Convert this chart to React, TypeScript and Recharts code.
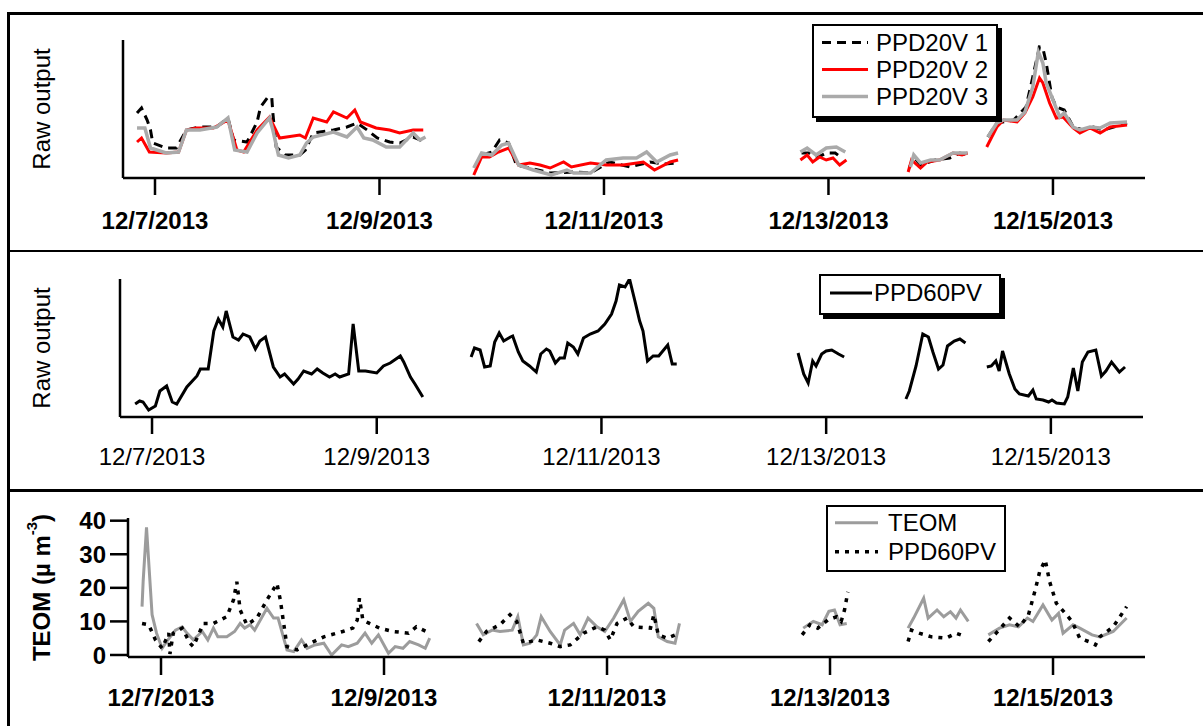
import { LineChart, Line, XAxis, YAxis, Label } from "recharts";

type Row = [number, number | null];

// x = days since 12/7/2013 00:00, null rows split the record into its gaps
const tickDays = [0, 2, 4, 6, 8];
const dateLabels = ["12/7/2013", "12/9/2013", "12/11/2013", "12/13/2013", "12/15/2013"];
const teomTicks = [0, 10, 20, 30, 40];

// top panel: raw output, arbitrary units
const ppd20v1: Row[] = [
  [-0.16, 65], [-0.12, 70], [-0.07, 58], [-0.04, 48], [-0.02, 35], [0.1, 30], [0.19, 30], [0.28, 48], [0.4, 51], [0.55, 51],
  [0.65, 60], [0.7, 38], [0.82, 36], [0.91, 56], [0.94, 71], [1.0, 80], [1.04, 81], [1.05, 65], [1.08, 31], [1.16, 23],
  [1.29, 23], [1.34, 28], [1.41, 45], [1.59, 48], [1.71, 51], [1.8, 55], [1.89, 48], [1.98, 40], [2.09, 36], [2.18, 35],
  [2.3, 41], [2.41, 36],
  [2.6, null],
  [2.85, 11], [2.91, 23], [3.0, 26], [3.07, 38], [3.15, 35], [3.22, 13], [3.34, 10], [3.52, 5], [3.73, 6], [3.88, 5],
  [4.05, 16], [4.23, 11], [4.41, 16], [4.54, 14], [4.65, 15],
  [5.2, null],
  [5.76, 25], [5.83, 25], [5.91, 21], [5.98, 25], [6.06, 25], [6.12, 20],
  [6.4, null],
  [6.72, 10], [6.76, 21], [6.82, 13], [6.95, 18], [7.08, 20], [7.17, 25], [7.24, 23],
  [7.33, null],
  [7.42, 41], [7.5, 55], [7.65, 58], [7.76, 71], [7.82, 101], [7.88, 131], [7.91, 130], [7.94, 115], [7.99, 81], [8.03, 71],
  [8.1, 68], [8.18, 51], [8.27, 48], [8.36, 51], [8.45, 48], [8.54, 51], [8.66, 55],
];

const ppd20v2: Row[] = [
  [-0.16, 36], [-0.12, 40], [-0.05, 26], [0.1, 25], [0.21, 26], [0.28, 48], [0.37, 50], [0.52, 50], [0.65, 58], [0.73, 28],
  [0.79, 26], [0.91, 48], [1.02, 61], [1.11, 40], [1.29, 43], [1.34, 40], [1.41, 60], [1.53, 56], [1.59, 66], [1.71, 60],
  [1.78, 68], [1.83, 56], [1.97, 50], [2.09, 48], [2.18, 45], [2.3, 48], [2.39, 48],
  [2.6, null],
  [2.84, 3], [2.91, 21], [2.98, 21], [3.06, 26], [3.15, 30], [3.24, 13], [3.34, 15], [3.43, 13], [3.52, 10], [3.64, 16],
  [3.71, 11], [3.88, 15], [4.02, 13], [4.17, 13], [4.35, 16], [4.45, 8], [4.59, 16], [4.66, 18],
  [5.2, null],
  [5.75, 18], [5.81, 23], [5.86, 16], [5.92, 21], [5.98, 18], [6.04, 20], [6.1, 13], [6.16, 18],
  [6.4, null],
  [6.71, 6], [6.74, 18], [6.82, 10], [6.88, 16], [6.99, 18], [7.11, 25], [7.19, 23], [7.24, 25],
  [7.33, null],
  [7.41, 31], [7.5, 51], [7.56, 58], [7.68, 56], [7.75, 65], [7.82, 81], [7.88, 100], [7.91, 95], [7.97, 75], [8.03, 60],
  [8.09, 61], [8.18, 50], [8.24, 45], [8.33, 50], [8.42, 45], [8.51, 51], [8.66, 53],
];

const ppd20v3: Row[] = [
  [-0.16, 50], [-0.09, 50], [-0.04, 30], [0.1, 25], [0.21, 26], [0.28, 48], [0.4, 48], [0.55, 51], [0.65, 60], [0.71, 28],
  [0.82, 26], [0.91, 45], [1.02, 60], [1.05, 48], [1.1, 23], [1.19, 20], [1.29, 23], [1.35, 35], [1.41, 41], [1.59, 46],
  [1.71, 41], [1.8, 51], [1.86, 40], [1.94, 38], [2.06, 31], [2.18, 31], [2.3, 45], [2.36, 38], [2.41, 41],
  [2.6, null],
  [2.84, 10], [2.91, 25], [3.0, 23], [3.09, 33], [3.15, 35], [3.24, 13], [3.37, 8], [3.53, 3], [3.67, 8], [3.73, 5],
  [3.88, 5], [4.02, 18], [4.17, 20], [4.29, 20], [4.38, 26], [4.47, 16], [4.59, 23], [4.66, 25],
  [5.2, null],
  [5.75, 26], [5.81, 30], [5.89, 23], [5.98, 30], [6.07, 31], [6.15, 26],
  [6.4, null],
  [6.73, 11], [6.76, 23], [6.82, 15], [6.91, 18], [6.99, 18], [7.11, 25], [7.24, 25],
  [7.33, null],
  [7.42, 41], [7.5, 55], [7.56, 58], [7.68, 58], [7.75, 66], [7.82, 91], [7.87, 126], [7.91, 115], [7.94, 95], [8.0, 78],
  [8.06, 61], [8.1, 65], [8.18, 51], [8.24, 48], [8.33, 51], [8.42, 50], [8.51, 55], [8.66, 56],
];

// middle panel: raw output, arbitrary units
const ppd60pvRaw: Row[] = [
  [-0.15, 13], [-0.11, 16], [-0.08, 15], [-0.03, 7], [0.03, 11], [0.07, 26], [0.13, 31], [0.18, 15], [0.22, 13], [0.31, 30],
  [0.4, 41], [0.43, 48], [0.5, 48], [0.55, 86], [0.59, 98], [0.63, 90], [0.66, 106], [0.72, 80], [0.77, 77], [0.81, 83],
  [0.87, 80], [0.92, 68], [0.96, 76], [1.01, 80], [1.08, 50], [1.14, 40], [1.18, 43], [1.26, 33], [1.3, 38], [1.35, 46],
  [1.42, 43], [1.47, 48], [1.52, 44], [1.58, 40], [1.63, 43], [1.67, 40], [1.75, 43], [1.79, 93], [1.84, 46], [1.9, 46],
  [2.0, 44], [2.06, 51], [2.12, 54], [2.21, 61], [2.24, 55], [2.3, 40], [2.34, 33], [2.41, 20],
  [2.6, null],
  [2.84, 60], [2.87, 69], [2.92, 67], [2.96, 50], [3.01, 51], [3.05, 75], [3.09, 84], [3.13, 76], [3.19, 80], [3.21, 81],
  [3.26, 65], [3.3, 56], [3.36, 51], [3.42, 45], [3.46, 63], [3.51, 68], [3.54, 66], [3.59, 54], [3.63, 59], [3.67, 59],
  [3.7, 74], [3.75, 70], [3.79, 63], [3.84, 79], [3.9, 83], [3.97, 86], [4.03, 93], [4.09, 103], [4.13, 116], [4.16, 132],
  [4.21, 130], [4.25, 138], [4.3, 115], [4.34, 96], [4.37, 86], [4.41, 56], [4.46, 61], [4.51, 61], [4.59, 72], [4.63, 53],
  [4.67, 53],
  [5.2, null],
  [5.75, 64], [5.8, 43], [5.84, 34], [5.88, 56], [5.91, 51], [5.96, 63], [6.0, 66], [6.05, 67], [6.11, 63], [6.16, 60],
  [6.4, null],
  [6.71, 18], [6.74, 26], [6.8, 51], [6.86, 83], [6.91, 80], [6.95, 65], [7.0, 48], [7.04, 52], [7.08, 71], [7.14, 76],
  [7.19, 78], [7.24, 74],
  [7.33, null],
  [7.43, 50], [7.47, 51], [7.51, 56], [7.54, 46], [7.57, 66], [7.63, 43], [7.68, 28], [7.72, 23], [7.8, 21], [7.84, 27],
  [7.87, 18], [7.93, 17], [7.98, 15], [8.01, 17], [8.05, 14], [8.12, 13], [8.15, 20], [8.2, 49], [8.24, 26], [8.28, 55],
  [8.33, 65], [8.4, 67], [8.45, 41], [8.49, 46], [8.54, 55], [8.61, 45], [8.66, 50],
];

// bottom panel: mass concentration
const teom: Row[] = [
  [-0.17, 14.4], [-0.16, 22], [-0.13, 38], [-0.08, 12], [-0.04, 6.5], [0.01, 2], [0.05, 4], [0.13, 7.4], [0.19, 8.4], [0.23, 6.6],
  [0.29, 4.5], [0.37, 7], [0.42, 4.5], [0.47, 8], [0.51, 5.4], [0.59, 5.4], [0.66, 7], [0.71, 9.4], [0.75, 8], [0.8, 9],
  [0.84, 7.4], [0.95, 13.9], [1.01, 11], [1.05, 11], [1.13, 1.5], [1.19, 1], [1.26, 4.5], [1.31, 2], [1.38, 3], [1.46, 3.5],
  [1.53, 0], [1.62, 3], [1.68, 2.5], [1.76, 3.5], [1.83, 6.5], [1.89, 3.5], [1.95, 6], [2.04, 0.5], [2.1, 2.5], [2.17, 2],
  [2.23, 4], [2.31, 3], [2.37, 2], [2.41, 5],
  [2.6, null],
  [2.83, 9.4], [2.89, 6], [2.97, 7.4], [3.04, 7], [3.15, 7.4], [3.2, 11.4], [3.25, 3], [3.31, 3.5], [3.37, 6], [3.41, 11.4],
  [3.49, 7], [3.58, 3], [3.62, 7.4], [3.7, 9.4], [3.76, 6], [3.83, 11], [3.91, 8.4], [3.98, 7], [4.06, 11], [4.15, 16.4],
  [4.21, 10], [4.28, 13], [4.37, 15.4], [4.42, 13.9], [4.46, 5.4], [4.54, 4], [4.61, 3.5], [4.65, 9.4],
  [5.2, null],
  [5.76, 8], [5.85, 10], [5.93, 9], [5.99, 13], [6.04, 13.4], [6.09, 9], [6.15, 9.4],
  [6.4, null],
  [6.7, 8], [6.75, 11], [6.84, 16.9], [6.88, 11], [6.96, 13.4], [7.02, 11.4], [7.08, 12.9], [7.13, 11], [7.17, 13.4], [7.24, 10],
  [7.33, null],
  [7.42, 6], [7.52, 8], [7.61, 9], [7.69, 8.4], [7.77, 11], [7.82, 10], [7.91, 14.9], [7.99, 10.4], [8.05, 12.4], [8.09, 6.5],
  [8.18, 9], [8.24, 8], [8.35, 6], [8.42, 5.4], [8.54, 7], [8.66, 11],
];

const ppd60pvMass: Row[] = [
  [-0.17, 9.4], [-0.11, 9], [-0.05, 4.5], [0.01, 2], [0.07, 6.5], [0.08, 0.3], [0.11, 6.5], [0.19, 8], [0.26, 3.5], [0.29, 2.5],
  [0.38, 9.4], [0.47, 9.4], [0.59, 11.4], [0.65, 16.4], [0.68, 21.8], [0.71, 13.4], [0.77, 9], [0.86, 11], [0.95, 16.4], [1.04, 21.3],
  [1.07, 16.4], [1.13, 2.5], [1.22, 1.5], [1.28, 2.5], [1.37, 4], [1.46, 5.4], [1.63, 7], [1.72, 8], [1.76, 10.4], [1.78, 16.9],
  [1.81, 10.4], [1.87, 9.4], [1.96, 8], [2.08, 7], [2.22, 6.5], [2.29, 8.4], [2.38, 7],
  [2.6, null],
  [2.85, 4], [2.92, 7], [3.04, 9], [3.13, 12], [3.19, 10], [3.25, 3.5], [3.37, 4.5], [3.49, 3.5], [3.58, 2.5], [3.67, 3],
  [3.79, 6.5], [3.91, 8.4], [3.98, 7.4], [4.03, 4.5], [4.09, 9.4], [4.18, 11], [4.24, 8.4], [4.39, 8], [4.42, 12], [4.46, 6],
  [4.54, 5], [4.65, 6.5],
  [5.2, null],
  [5.75, 6], [5.82, 9], [5.89, 8], [5.98, 10.4], [6.06, 11.4], [6.1, 10], [6.13, 13.4], [6.16, 18.8],
  [6.4, null],
  [6.7, 4], [6.73, 7.4], [6.8, 6.5], [6.91, 5.4], [7.04, 5], [7.13, 6.5], [7.22, 5.4],
  [7.33, null],
  [7.42, 4], [7.49, 6.5], [7.61, 11], [7.7, 8.4], [7.78, 12], [7.84, 19.3], [7.88, 24.8], [7.93, 28.3], [7.97, 21.8], [8.03, 15.4],
  [8.11, 12.4], [8.17, 10], [8.24, 5], [8.32, 4], [8.38, 3], [8.42, 5.4], [8.54, 8.4], [8.66, 14.4],
];

const FONT = '"Liberation Sans", Arial, sans-serif';
const FS = 24;
const toData = (rows: Row[]) => rows.map(([t, v]) => ({ t, v }));
const dateTick = (t: number) => dateLabels[tickDays.indexOf(t)] ?? "";

const axisStroke = { stroke: "#000", strokeWidth: 2.5 };

const rotatedLabel = (bold: boolean, unit: boolean) => (props: any) => {
  const vb = props.viewBox || { y: 0, height: 0 };
  const cx = 41;
  const cy = vb.y + vb.height / 2;
  return (
    <text
      x={cx}
      y={cy}
      transform={`rotate(-90 ${cx} ${cy})`}
      textAnchor="middle"
      dominantBaseline="central"
      fontFamily={FONT}
      fontSize={FS}
      fontWeight={bold ? "bold" : "normal"}
      fill="#000"
    >
      {unit ? (
        <>
          <tspan>TEOM (µ m</tspan>
          <tspan dy={-10} fontSize={15}>-3</tspan>
          <tspan dy={10}>)</tspan>
        </>
      ) : (
        "Raw output"
      )}
    </text>
  );
};

type LegendRow = { name: string; color: string; sw: number; dash?: string };

function LegendBox(p: {
  left: number; top: number; width: number; height: number; shadow: boolean;
  rows: LegendRow[]; rowTop: number; rowH: number; sampleLeft: number; sampleW: number; textLeft: number;
}) {
  return (
    <div
      style={{
        position: "absolute", left: p.left, top: p.top, width: p.width, height: p.height,
        border: "2.5px solid #000", boxSizing: "border-box", background: "#fff",
        boxShadow: p.shadow ? "4px 4px 0 #000" : "none",
      }}
    >
      {p.rows.map((r, i) => (
        <div key={r.name} style={{ position: "absolute", left: 0, top: p.rowTop + i * p.rowH, height: p.rowH, width: "100%" }}>
          <svg style={{ position: "absolute", left: p.sampleLeft, top: 0 }} width={p.sampleW} height={p.rowH}>
            <line x1={0} y1={p.rowH / 2} x2={p.sampleW} y2={p.rowH / 2} stroke={r.color} strokeWidth={r.sw} strokeDasharray={r.dash} />
          </svg>
          <span
            style={{
              position: "absolute", left: p.textLeft, top: 0, lineHeight: `${p.rowH}px`,
              fontSize: FS, fontFamily: FONT, color: "#000", whiteSpace: "nowrap",
            }}
          >
            {r.name}
          </span>
        </div>
      ))}
    </div>
  );
}

const hLine = (top: number) => (
  <div style={{ position: "absolute", left: 7, top, width: 1196, height: 2.5, background: "#000" }} />
);

export default function App() {
  const xTick = (bold: boolean) => ({ fill: "#000", fontSize: FS, fontWeight: bold ? "bold" : "normal", fontFamily: FONT });
  return (
    <div style={{ position: "absolute", left: 0, top: 0, width: 1203, height: 726, background: "#fff", overflow: "hidden" }}>
      <div style={{ position: "absolute", left: 0, top: 0 }}>
        <LineChart width={1203} height={250} margin={{ top: 40, right: 58, bottom: 0, left: 0 }}>
          <XAxis
            type="number" dataKey="t" domain={[-0.285, 8.82]} ticks={tickDays} interval={0} allowDataOverflow
            tickFormatter={dateTick} height={72} tickSize={17} tickMargin={17}
            axisLine={axisStroke} tickLine={axisStroke} tick={xTick(true)}
          />
          <YAxis
            type="number" domain={[0, 138]} allowDataOverflow tick={false} tickLine={false} width={123}
            axisLine={axisStroke} label={<Label content={rotatedLabel(false, false)} />}
          />
          <Line data={toData(ppd20v1)} dataKey="v" stroke="#000" strokeWidth={3} strokeDasharray="9 6" dot={false} connectNulls={false} isAnimationActive={false} />
          <Line data={toData(ppd20v2)} dataKey="v" stroke="#ff0000" strokeWidth={3} dot={false} connectNulls={false} isAnimationActive={false} />
          <Line data={toData(ppd20v3)} dataKey="v" stroke="#aaaaaa" strokeWidth={3.5} dot={false} connectNulls={false} isAnimationActive={false} />
        </LineChart>
      </div>

      <div style={{ position: "absolute", left: 0, top: 250 }}>
        <LineChart width={1203} height={240} margin={{ top: 29, right: 60, bottom: 0, left: 0 }}>
          <XAxis
            type="number" dataKey="t" domain={[-0.285, 8.82]} ticks={tickDays} interval={0} allowDataOverflow
            tickFormatter={dateTick} height={73} tickSize={17} tickMargin={14}
            axisLine={axisStroke} tickLine={axisStroke} tick={xTick(false)}
          />
          <YAxis
            type="number" domain={[0, 138]} allowDataOverflow tick={false} tickLine={false} width={120}
            axisLine={axisStroke} label={<Label content={rotatedLabel(false, false)} />}
          />
          <Line data={toData(ppd60pvRaw)} dataKey="v" stroke="#000" strokeWidth={3} dot={false} connectNulls={false} isAnimationActive={false} />
        </LineChart>
      </div>

      <div style={{ position: "absolute", left: 0, top: 490 }}>
        <LineChart width={1203} height={236} margin={{ top: 28, right: 58, bottom: 0, left: 0 }}>
          <XAxis
            type="number" dataKey="t" domain={[-0.296, 8.825]} ticks={tickDays} interval={0} allowDataOverflow
            tickFormatter={dateTick} height={69} tickSize={18} tickMargin={14}
            axisLine={axisStroke} tickLine={axisStroke} tick={xTick(true)}
          />
          <YAxis
            type="number" domain={[-0.6, 40.8]} allowDataOverflow ticks={teomTicks} interval={0} width={128}
            tickSize={18} tickMargin={4} axisLine={axisStroke} tickLine={axisStroke} tick={xTick(true)}
            label={<Label content={rotatedLabel(true, true)} />}
          />
          <Line data={toData(teom)} dataKey="v" stroke="#9c9c9c" strokeWidth={3} dot={false} connectNulls={false} isAnimationActive={false} />
          <Line data={toData(ppd60pvMass)} dataKey="v" stroke="#000" strokeWidth={3.5} strokeDasharray="4 6" dot={false} connectNulls={false} isAnimationActive={false} />
        </LineChart>
      </div>

      {/* frame */}
      <div style={{ position: "absolute", left: 7, top: 12, width: 2.5, height: 714, background: "#000" }} />
      {hLine(12)}
      {hLine(249.5)}
      {hLine(489)}

      <LegendBox
        left={812} top={24} width={186} height={94} shadow
        rows={[
          { name: "PPD20V 1", color: "#000", sw: 3, dash: "9 6" },
          { name: "PPD20V 2", color: "#ff0000", sw: 3 },
          { name: "PPD20V 3", color: "#aaaaaa", sw: 3.5 },
        ]}
        rowTop={3} rowH={27} sampleLeft={7.5} sampleW={46} textLeft={62}
      />
      <LegendBox
        left={819} top={274} width={182} height={41} shadow
        rows={[{ name: "PPD60PV", color: "#000", sw: 3 }]}
        rowTop={1.5} rowH={30} sampleLeft={8.5} sampleW={42} textLeft={53}
      />
      <LegendBox
        left={826} top={505} width={180} height={67} shadow={false}
        rows={[
          { name: "TEOM", color: "#9c9c9c", sw: 3 },
          { name: "PPD60PV", color: "#000", sw: 3.5, dash: "4 6" },
        ]}
        rowTop={1} rowH={29.4} sampleLeft={6.5} sampleW={43} textLeft={60}
      />
    </div>
  );
}
